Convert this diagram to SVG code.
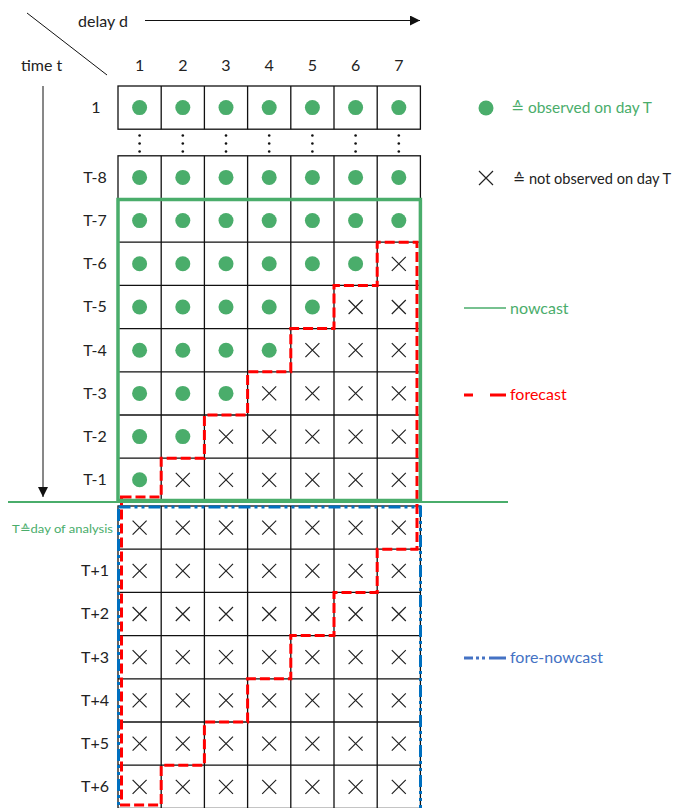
<svg xmlns="http://www.w3.org/2000/svg" width="678" height="808" viewBox="0 0 678 808">
<style>
text{font-family:Lato,"Liberation Sans","DejaVu Sans",sans-serif;font-size:16px;fill:#222}
.lbl{text-anchor:middle}
.grid{fill:#fff;stroke:#111;stroke-width:1.3}
.gl{stroke:#111;stroke-width:1.3}
.dot{fill:#4aad6b}
.x{stroke:#222;stroke-width:1.2;fill:none}
.green{fill:#4aad6b}
.blue{fill:#4472c4}
.red{fill:#ff0000}
</style>
<defs>
<g id="dot"><circle r="7.5" class="dot"/></g>
<g id="x"><path class="x" d="M-7,-7L7,7M7,-7L-7,7"/></g>
<marker id="ah" markerUnits="userSpaceOnUse" markerWidth="12" markerHeight="12" refX="10" refY="5" orient="auto"><path d="M0,0L10,5L0,10Z" fill="#111"/></marker>
</defs>

<g id="header">
<line x1="27" y1="13" x2="107" y2="75" stroke="#111" stroke-width="1"/>
<text x="78" y="27">delay d</text>
<text x="21" y="71">time t</text>
<line x1="145" y1="20.5" x2="420" y2="20.5" stroke="#111" stroke-width="1" marker-end="url(#ah)"/>
<line x1="43" y1="86" x2="43" y2="497" stroke="#111" stroke-width="1" marker-end="url(#ah)"/>
<g class="lbl">
<text x="139.6" y="71">1</text><text x="182.8" y="71">2</text><text x="226" y="71">3</text><text x="269.2" y="71">4</text><text x="312.4" y="71">5</text><text x="355.6" y="71">6</text><text x="398.8" y="71">7</text>
</g>
</g>

<g id="row-labels" class="lbl">
<text x="96" y="113">1</text>
<text x="95" y="183">T-8</text>
<text x="95" y="226">T-7</text>
<text x="95" y="269">T-6</text>
<text x="95" y="312">T-5</text>
<text x="95" y="356">T-4</text>
<text x="95" y="399">T-3</text>
<text x="95" y="442">T-2</text>
<text x="95" y="485">T-1</text>
<text x="95" y="576">T+1</text>
<text x="95" y="619">T+2</text>
<text x="95" y="663">T+3</text>
<text x="95" y="706">T+4</text>
<text x="95" y="749">T+5</text>
<text x="95" y="792">T+6</text>
<text x="12" y="533" style="font-size:12px;text-anchor:start" class="green" textLength="101" lengthAdjust="spacingAndGlyphs">T≙day of analysis</text>
</g>

<g id="upper-table">
<rect class="grid" x="118" y="86" width="302.4" height="43.2"/>
<path class="gl" d="M161.2,86V129.2M204.4,86V129.2M247.6,86V129.2M290.8,86V129.2M334,86V129.2M377.2,86V129.2"/>
<rect class="grid" x="118" y="155.8" width="302.4" height="345.6"/>
<path class="gl" d="M161.2,155.8V501.4M204.4,155.8V501.4M247.6,155.8V501.4M290.8,155.8V501.4M334,155.8V501.4M377.2,155.8V501.4M118,199H420.4M118,242.2H420.4M118,285.4H420.4M118,328.6H420.4M118,371.8H420.4M118,415H420.4M118,458.2H420.4"/>
<g fill="#111">
<circle cx="139.6" cy="135.5" r="1.3"/><circle cx="139.6" cy="143.5" r="1.3"/><circle cx="139.6" cy="151.5" r="1.3"/>
<circle cx="182.8" cy="135.5" r="1.3"/><circle cx="182.8" cy="143.5" r="1.3"/><circle cx="182.8" cy="151.5" r="1.3"/>
<circle cx="226" cy="135.5" r="1.3"/><circle cx="226" cy="143.5" r="1.3"/><circle cx="226" cy="151.5" r="1.3"/>
<circle cx="269.2" cy="135.5" r="1.3"/><circle cx="269.2" cy="143.5" r="1.3"/><circle cx="269.2" cy="151.5" r="1.3"/>
<circle cx="312.4" cy="135.5" r="1.3"/><circle cx="312.4" cy="143.5" r="1.3"/><circle cx="312.4" cy="151.5" r="1.3"/>
<circle cx="355.6" cy="135.5" r="1.3"/><circle cx="355.6" cy="143.5" r="1.3"/><circle cx="355.6" cy="151.5" r="1.3"/>
<circle cx="398.8" cy="135.5" r="1.3"/><circle cx="398.8" cy="143.5" r="1.3"/><circle cx="398.8" cy="151.5" r="1.3"/>
</g>
<use href="#dot" x="139.6" y="107.6"/><use href="#dot" x="182.8" y="107.6"/><use href="#dot" x="226" y="107.6"/><use href="#dot" x="269.2" y="107.6"/><use href="#dot" x="312.4" y="107.6"/><use href="#dot" x="355.6" y="107.6"/><use href="#dot" x="398.8" y="107.6"/>
<use href="#dot" x="139.6" y="177.4"/><use href="#dot" x="182.8" y="177.4"/><use href="#dot" x="226" y="177.4"/><use href="#dot" x="269.2" y="177.4"/><use href="#dot" x="312.4" y="177.4"/><use href="#dot" x="355.6" y="177.4"/><use href="#dot" x="398.8" y="177.4"/>
<use href="#dot" x="139.6" y="220.6"/><use href="#dot" x="182.8" y="220.6"/><use href="#dot" x="226" y="220.6"/><use href="#dot" x="269.2" y="220.6"/><use href="#dot" x="312.4" y="220.6"/><use href="#dot" x="355.6" y="220.6"/><use href="#dot" x="398.8" y="220.6"/>
<use href="#dot" x="139.6" y="263.8"/><use href="#dot" x="182.8" y="263.8"/><use href="#dot" x="226" y="263.8"/><use href="#dot" x="269.2" y="263.8"/><use href="#dot" x="312.4" y="263.8"/><use href="#dot" x="355.6" y="263.8"/><use href="#x" x="398.8" y="263.8"/>
<use href="#dot" x="139.6" y="307"/><use href="#dot" x="182.8" y="307"/><use href="#dot" x="226" y="307"/><use href="#dot" x="269.2" y="307"/><use href="#dot" x="312.4" y="307"/><use href="#x" x="355.6" y="307"/><use href="#x" x="398.8" y="307"/>
<use href="#dot" x="139.6" y="350.2"/><use href="#dot" x="182.8" y="350.2"/><use href="#dot" x="226" y="350.2"/><use href="#dot" x="269.2" y="350.2"/><use href="#x" x="312.4" y="350.2"/><use href="#x" x="355.6" y="350.2"/><use href="#x" x="398.8" y="350.2"/>
<use href="#dot" x="139.6" y="393.4"/><use href="#dot" x="182.8" y="393.4"/><use href="#dot" x="226" y="393.4"/><use href="#x" x="269.2" y="393.4"/><use href="#x" x="312.4" y="393.4"/><use href="#x" x="355.6" y="393.4"/><use href="#x" x="398.8" y="393.4"/>
<use href="#dot" x="139.6" y="436.6"/><use href="#dot" x="182.8" y="436.6"/><use href="#x" x="226" y="436.6"/><use href="#x" x="269.2" y="436.6"/><use href="#x" x="312.4" y="436.6"/><use href="#x" x="355.6" y="436.6"/><use href="#x" x="398.8" y="436.6"/>
<use href="#dot" x="139.6" y="479.8"/><use href="#x" x="182.8" y="479.8"/><use href="#x" x="226" y="479.8"/><use href="#x" x="269.2" y="479.8"/><use href="#x" x="312.4" y="479.8"/><use href="#x" x="355.6" y="479.8"/><use href="#x" x="398.8" y="479.8"/>
</g>

<g id="lower-table">
<rect class="grid" x="118" y="506" width="302.4" height="302.4"/>
<path class="gl" d="M161.2,506V809M204.4,506V809M247.6,506V809M290.8,506V809M334,506V809M377.2,506V809M118,549.2H420.4M118,592.4H420.4M118,635.6H420.4M118,678.8H420.4M118,722H420.4M118,765.2H420.4"/>
<g id="lower-x">
<use href="#x" x="139.6" y="527.6"/><use href="#x" x="182.8" y="527.6"/><use href="#x" x="226" y="527.6"/><use href="#x" x="269.2" y="527.6"/><use href="#x" x="312.4" y="527.6"/><use href="#x" x="355.6" y="527.6"/><use href="#x" x="398.8" y="527.6"/>
<use href="#x" x="139.6" y="570.8"/><use href="#x" x="182.8" y="570.8"/><use href="#x" x="226" y="570.8"/><use href="#x" x="269.2" y="570.8"/><use href="#x" x="312.4" y="570.8"/><use href="#x" x="355.6" y="570.8"/><use href="#x" x="398.8" y="570.8"/>
<use href="#x" x="139.6" y="614"/><use href="#x" x="182.8" y="614"/><use href="#x" x="226" y="614"/><use href="#x" x="269.2" y="614"/><use href="#x" x="312.4" y="614"/><use href="#x" x="355.6" y="614"/><use href="#x" x="398.8" y="614"/>
<use href="#x" x="139.6" y="657.2"/><use href="#x" x="182.8" y="657.2"/><use href="#x" x="226" y="657.2"/><use href="#x" x="269.2" y="657.2"/><use href="#x" x="312.4" y="657.2"/><use href="#x" x="355.6" y="657.2"/><use href="#x" x="398.8" y="657.2"/>
<use href="#x" x="139.6" y="700.4"/><use href="#x" x="182.8" y="700.4"/><use href="#x" x="226" y="700.4"/><use href="#x" x="269.2" y="700.4"/><use href="#x" x="312.4" y="700.4"/><use href="#x" x="355.6" y="700.4"/><use href="#x" x="398.8" y="700.4"/>
<use href="#x" x="139.6" y="743.6"/><use href="#x" x="182.8" y="743.6"/><use href="#x" x="226" y="743.6"/><use href="#x" x="269.2" y="743.6"/><use href="#x" x="312.4" y="743.6"/><use href="#x" x="355.6" y="743.6"/><use href="#x" x="398.8" y="743.6"/>
<use href="#x" x="139.6" y="786.8"/><use href="#x" x="182.8" y="786.8"/><use href="#x" x="226" y="786.8"/><use href="#x" x="269.2" y="786.8"/><use href="#x" x="312.4" y="786.8"/><use href="#x" x="355.6" y="786.8"/><use href="#x" x="398.8" y="786.8"/>
</g>
</g>

<g id="connectors">
<path id="forecast-region" fill="none" stroke="#ff0000" stroke-width="3" stroke-dasharray="10 4" d="M121.5,497H161.2V458.2H204.4V415H247.6V371.8H290.8V328.6H334V285.4H377.2V242.2H417V549.2H377.2V592.4H334V635.6H290.8V678.8H247.6V722H204.4V765.2H161.2V805H121.5Z"/>
<rect id="nowcast-region" x="118" y="199.5" width="302.4" height="301" fill="none" stroke="#4aad6b" stroke-width="3.5"/>
<rect id="forenowcast-region" x="118.5" y="507" width="302" height="320" fill="none" stroke="#0070c0" stroke-width="3" stroke-dasharray="12 4 3 4 3 4"/>
<line id="today-line" x1="8" y1="502" x2="508" y2="502" stroke="#4aad6b" stroke-width="2"/>
</g>

<g id="legend">
<g id="legend-observed"><use href="#dot" x="486" y="108"/><text x="511" y="113" class="green" textLength="141" lengthAdjust="spacingAndGlyphs">≙ observed on day T</text></g>
<g id="legend-not-observed"><use href="#x" x="486" y="178"/><text x="513" y="184" style="font-size:15px" textLength="158" lengthAdjust="spacingAndGlyphs">≙ not observed on day T</text></g>
<g id="legend-nowcast"><line x1="464" y1="308" x2="506" y2="308" stroke="#4aad6b" stroke-width="1.5"/><text x="510" y="314" class="green">nowcast</text></g>
<g id="legend-forecast"><line x1="464" y1="395" x2="506" y2="395" stroke="#ff0000" stroke-width="3" stroke-dasharray="9 17 17"/><text x="510" y="400" class="red">forecast</text></g>
<g id="legend-forenowcast"><line x1="464" y1="658" x2="506" y2="658" stroke="#4472c4" stroke-width="3" stroke-dasharray="9 3 3 3 3 4 30"/><text x="510" y="663" class="blue">fore-nowcast</text></g>
</g>
</svg>
